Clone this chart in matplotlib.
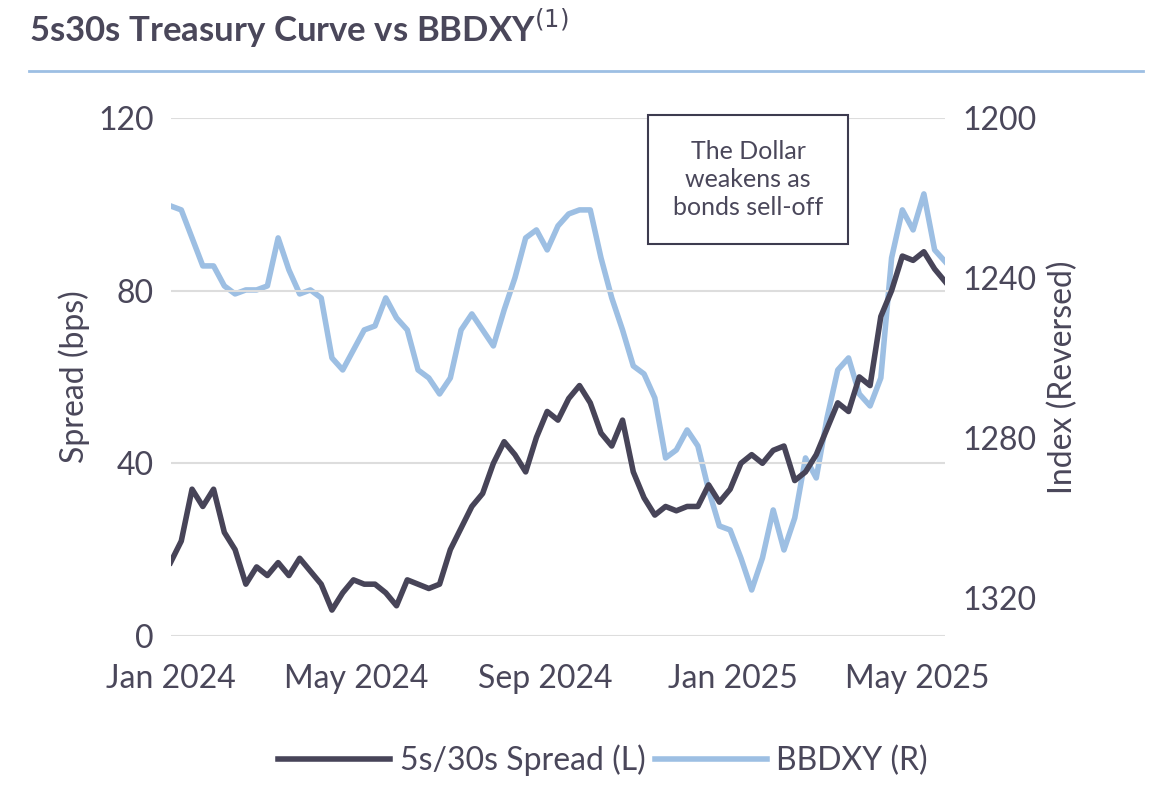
import numpy as np
import pandas as pd
import matplotlib.pyplot as plt
import matplotlib.dates as mdates

plt.rcParams['font.family'] = 'Lato'

spread = [17, 22, 34, 30, 34, 24, 20, 12, 16, 14, 17, 14, 18, 15, 12, 6, 10, 13, 12, 12,
          10, 7, 13, 12, 11, 12, 20, 25, 30, 33, 40, 45, 42, 38, 46, 52, 50, 55, 58, 54,
          47, 44, 50, 38, 32, 28, 30, 29, 30, 30, 35, 31, 34, 40, 42, 40, 43, 44, 36, 38,
          42, 48, 54, 52, 60, 58, 74, 80, 88, 87, 89, 85, 82]
bbdxy = [1222, 1223, 1230, 1237, 1237, 1242, 1244, 1243, 1243, 1242, 1230, 1238, 1244, 1243,
         1245, 1260, 1263, 1258, 1253, 1252, 1245, 1250, 1253, 1263, 1265, 1269, 1265, 1253,
         1249, 1253, 1257, 1248, 1240, 1230, 1228, 1233, 1227, 1224, 1223, 1223, 1235, 1245,
         1253, 1262, 1264, 1270, 1285, 1283, 1278, 1282, 1293, 1302, 1303, 1310, 1318, 1310,
         1298, 1308, 1300, 1285, 1290, 1275, 1263, 1260, 1269, 1272, 1265, 1235, 1223, 1228,
         1219, 1233, 1236]
dates = pd.date_range('2024-01-01', periods=len(spread), freq='7D')
tick_dates = pd.to_datetime(['2024-01-01', '2024-05-01', '2024-09-01', '2025-01-01', '2025-05-01'])
tick_labels = ['Jan 2024', 'May 2024', 'Sep 2024', 'Jan 2025', 'May 2025']

dark = '#474458'
blue = '#9dbfe3'
txt = '#4a475a'

fig = plt.figure(figsize=(11.6, 8.02), dpi=100)
ax = fig.add_axes([0.147, 0.207, 0.668, 0.646])
ax2 = ax.twinx()

ax.plot(dates, spread, color=dark, lw=4, label='5s/30s Spread (L)', zorder=3)
ax2.plot(dates, bbdxy, color=blue, lw=4, label='BBDXY (R)')
ax.set_zorder(2)
ax.patch.set_visible(False)

ax.set_ylim(0, 120)
ax.set_yticks([0, 40, 80, 120])
ax2.set_ylim(1329.5, 1200)
ax2.set_yticks([1200, 1240, 1280, 1320])
ax.set_xlim(dates[0], dates[-1])
ax.set_xticks(tick_dates)
ax.set_xticklabels(tick_labels)
ax.grid(axis='y', color='#dddddd', lw=1.5)

for a in (ax, ax2):
    for s in a.spines.values():
        s.set_visible(False)
    a.tick_params(length=0, labelsize=23, colors=txt, pad=12)
ax.tick_params(axis='x', pad=20)
ax.set_ylabel('Spread (bps)', fontsize=23, color=txt, labelpad=6)
ax2.set_ylabel('Index (Reversed)', fontsize=23, color=txt, labelpad=8)

fig.text(0.025, 0.965, '5s30s Treasury Curve vs BBDXY$^{(1)}$', fontsize=25,
         fontweight='bold', color=txt, va='center')
fig.add_artist(plt.Line2D([0.025, 0.985], [0.912, 0.912], color=blue, lw=2))

fig.text(0.645, 0.825, 'The Dollar\nweakens as\nbonds sell-off', ha='center', va='top',
         fontsize=18, color=txt, linespacing=1.25,
         bbox=dict(boxstyle='square,pad=1.0', fc='white', ec='#3d3b4f', lw=1.5))

h1, l1 = ax.get_legend_handles_labels()
h2, l2 = ax2.get_legend_handles_labels()
fig.legend(h1 + h2, l1 + l2, loc='center', bbox_to_anchor=(0.52, 0.052), ncol=2,
           frameon=False, fontsize=23, labelcolor=txt, handlelength=3.5,
           columnspacing=0.3, handletextpad=0.3)

fig.savefig('out.png', dpi=100)
